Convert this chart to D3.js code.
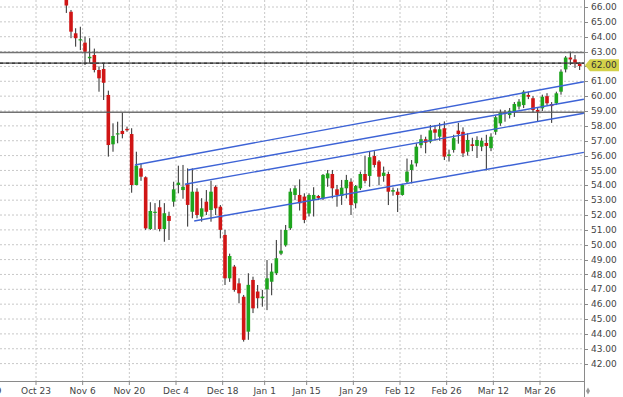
<!DOCTYPE html>
<html><head><meta charset="utf-8">
<script src="https://cdn.jsdelivr.net/npm/d3@7"></script>
<style>body{margin:0;background:#fff}svg{display:block}</style>
</head><body><svg id="c" width="623" height="397"></svg>
<script>
// ---- data ----
const startIndex = 6; // trading-day index of first candle (0 = Oct 23)
const opens  = [66.7,65.68,64.23,63.75,63.6,62.55,62.77,61.76,61.83,60.08,56.76,57.45,57.66,57.8,57.45,54.02,55.14,54.54,51.06,52.15,52.52,51.06,51.94,52.9,54.02,53.68,54.07,52.22,53.57,51.89,52.9,52.34,53.9,52.56,50.66,47.74,48.53,47.4,46.5,44.15,47.63,46.85,46.4,47.0,47.51,48.08,49.4,49.96,51.11,53.35,53.35,53.24,52.1,53.0,53.28,53.12,54.47,54.76,53.73,53.28,53.8,54.24,52.79,53.8,54.76,54.63,55.97,55.6,54.63,54.76,53.57,53.57,53.35,54.24,55.03,55.48,56.7,57.1,56.94,57.77,57.27,57.84,55.97,56.38,57.68,57.6,56.26,56.76,56.65,56.6,56.85,56.5,57.6,58.17,58.9,58.73,58.9,59.3,59.4,60.08,59.86,59.07,59.18,60.0,59.47,59.52,60.3,61.8,62.6,62.47,62.2];
const highs  = [67.0,65.8,64.57,64.67,64.0,63.9,63.2,62.0,62.2,60.37,58.17,58.28,58.9,57.95,57.84,56.26,55.48,54.6,52.86,52.8,53.0,52.8,52.22,54.24,55.32,55.37,55.14,55.14,53.8,53.13,53.68,54.3,54.0,52.67,51.0,49.4,48.64,47.74,46.62,48.08,47.85,47.29,46.96,48.97,48.75,50.32,51.0,51.33,53.8,54.0,54.4,53.46,53.46,53.87,53.35,54.76,55.03,55.03,54.02,54.36,54.7,54.47,54.02,54.92,55.97,56.26,56.3,55.7,55.26,54.92,53.85,53.8,54.1,55.8,55.7,56.83,57.4,57.27,58.06,58.06,58.2,58.3,56.4,57.4,58.2,57.9,57.5,57.2,57.3,57.2,57.4,57.5,58.7,59.1,59.07,59.2,59.6,59.8,60.4,60.3,60.0,59.2,60.1,60.2,59.6,60.3,61.8,62.7,63.0,62.77,62.3];
const lows   = [65.6,63.9,63.33,63.1,62.1,62.2,61.6,60.3,59.74,55.93,56.26,56.83,57.16,57.6,53.5,54.0,54.3,51.0,51.0,51.0,50.9,50.2,50.32,52.56,53.46,53.1,51.22,51.78,51.78,51.55,52.0,51.55,52.0,50.43,47.29,47.5,46.84,46.06,43.48,43.6,45.4,45.72,45.83,45.6,46.6,47.96,49.3,49.87,51.0,53.0,52.3,51.45,51.9,51.9,53.0,53.0,53.9,53.12,52.56,52.68,53.12,52.0,52.45,53.68,54.13,53.9,55.2,54.0,54.24,52.67,53.3,52.2,53.3,54.1,54.13,55.26,56.5,56.15,56.83,57.0,57.0,55.7,55.6,56.2,56.8,55.9,56.0,56.3,55.84,56.3,55.0,56.3,57.4,58.0,58.28,58.5,58.6,59.1,59.2,59.8,58.9,58.28,59.0,59.4,58.2,59.4,60.1,61.6,62.1,61.9,61.76];
const closes = [66.1,64.34,63.9,63.83,62.99,62.65,61.76,61.2,60.9,56.71,57.32,57.5,57.45,57.7,54.02,55.32,54.58,51.1,52.27,52.22,51.06,52.12,51.6,53.73,54.18,53.9,52.68,53.57,52.0,52.45,52.22,53.57,52.45,51.0,47.74,49.24,46.96,46.73,43.6,47.3,45.72,46.4,46.51,47.74,48.19,49.09,49.6,50.99,53.57,53.8,52.79,51.67,53.35,53.35,53.15,54.7,54.8,53.8,53.35,53.84,54.36,52.67,53.95,54.76,54.3,55.89,55.37,54.58,54.85,53.57,53.68,53.35,54.02,54.92,55.4,56.6,57.1,56.87,57.7,57.54,57.77,55.93,56.08,57.17,57.45,56.15,57.05,56.65,57.05,57.0,56.65,57.27,58.58,58.9,58.85,59.02,59.47,59.63,60.3,59.96,59.07,58.95,59.96,59.52,59.33,60.19,61.65,62.6,62.47,62.16,62.03];
const tickLabels = ["Oct 9","Oct 23","Nov 6","Nov 20","Dec 4","Dec 18","Jan 1","Jan 15","Jan 29","Feb 12","Feb 26","Mar 12","Mar 26"];
const tickIndex  = [-10,0,10,20,30,40,49,58,68,78,88,98,108];
const priceTicks = d3.range(42, 67, 1);
const levelPrices = [62.94, 62.22, 58.92];
const lastPriceLevel = 62.22;   // dashed last-price line
const lastPriceLabel = 62.00;   // value in the highlighted axis tag
const trendFrom = [[21.2,55.37],[32.6,55.03],[31.9,54.07],[33.9,51.6]];
const trendTo   = [[117.4,60.97],[117.4,59.79],[117.4,58.85],[117.4,56.22]];

// ---- layout ----
const W = 623, H = 397, plotR = 584, plotB = 381;
const svg = d3.select("#c");
const x = d3.scaleLinear().domain([0,108]).range([36,540]);
const y = d3.scaleLinear().domain([42,66]).range([363.6,7]);
const font = "DejaVu Sans, Verdana, sans-serif";

svg.append("defs").append("clipPath").attr("id","pc")
  .append("rect").attr("x",0).attr("y",0).attr("width",plotR).attr("height",plotB);

const grid = svg.append("g");
grid.selectAll("line.h").data(priceTicks).join("line")
  .attr("x1",0).attr("x2",plotR).attr("y1",d=>y(d)).attr("y2",d=>y(d))
  .attr("stroke","#c8c8c8").attr("stroke-width",1).attr("stroke-dasharray","2,2");
grid.selectAll("line.v").data(tickIndex).join("line")
  .attr("x1",d=>x(d)).attr("x2",d=>x(d)).attr("y1",0).attr("y2",plotB)
  .attr("stroke","#c8c8c8").attr("stroke-width",1).attr("stroke-dasharray","2,2");

const plot = svg.append("g").attr("clip-path","url(#pc)");

const candles = opens.map((o,k)=>({i:startIndex+k,o,h:highs[k],l:lows[k],c:closes[k]}));
const cg = plot.append("g");
cg.selectAll("line").data(candles).join("line")
  .attr("x1",d=>x(d.i+0.5)).attr("x2",d=>x(d.i+0.5))
  .attr("y1",d=>y(d.h)).attr("y2",d=>y(d.l))
  .attr("stroke","#2a2a2a").attr("stroke-width",1);
const bw = 3.6;
cg.selectAll("rect").data(candles).join("rect")
  .attr("x",d=>x(d.i+0.5)-bw/2).attr("width",bw)
  .attr("y",d=>y(Math.max(d.o,d.c)))
  .attr("height",d=>Math.max(1.2,Math.abs(y(d.o)-y(d.c))))
  .attr("fill",d=>d.c>=d.o?"#1ea51e":"#d01515");

// level lines
plot.selectAll("line.lvl").data(levelPrices).join("line").attr("class","lvl")
  .attr("x1",0).attr("x2",plotR).attr("y1",d=>y(d)).attr("y2",d=>y(d))
  .attr("stroke","#5a5a5a").attr("stroke-width",1.6).attr("opacity",0.85);
plot.append("line").attr("x1",0).attr("x2",plotR).attr("y1",y(lastPriceLevel)).attr("y2",y(lastPriceLevel))
  .attr("stroke","#222").attr("stroke-width",1).attr("stroke-dasharray","3,3");

// trend lines
plot.selectAll("line.tr").data(trendFrom).join("line").attr("class","tr")
  .attr("x1",d=>x(d[0])).attr("y1",d=>y(d[1]))
  .attr("x2",(d,k)=>x(trendTo[k][0])).attr("y2",(d,k)=>y(trendTo[k][1]))
  .attr("stroke","#3d63d6").attr("stroke-width",1.4);

// axes frame
svg.append("line").attr("x1",0).attr("x2",plotR).attr("y1",plotB+0.5).attr("y2",plotB+0.5).attr("stroke","#8a8a8a");
svg.append("line").attr("x1",plotR+0.5).attr("x2",plotR+0.5).attr("y1",0).attr("y2",H).attr("stroke","#8a8a8a");

// right axis
const ra = svg.append("g").attr("font-family",font).attr("font-size",9).attr("fill","#444");
ra.selectAll("line").data(priceTicks).join("line")
  .attr("x1",plotR).attr("x2",plotR+4).attr("y1",d=>Math.round(y(d))+0.5).attr("y2",d=>Math.round(y(d))+0.5)
  .attr("stroke","#8a8a8a");
ra.selectAll("text").data(priceTicks).join("text")
  .attr("x",591).attr("y",d=>y(d)).attr("dy","0.35em").text(d=>d.toFixed(2));

// last price tag
const ly = y(lastPriceLabel) - 1.2;
svg.append("path").attr("d",`M585,${ly} L590,${ly-6} L619,${ly-6} L619,${ly+6} L590,${ly+6} Z`).attr("fill","#d3d24a");
svg.append("text").attr("x",591).attr("y",ly).attr("dy","0.35em")
  .attr("font-family",font).attr("font-size",9).attr("fill","#333").text(lastPriceLabel.toFixed(2));

// bottom axis
const ba = svg.append("g").attr("font-family",font).attr("font-size",9).attr("fill","#444");
ba.selectAll("line").data(tickIndex).join("line")
  .attr("x1",d=>x(d)).attr("x2",d=>x(d)).attr("y1",plotB).attr("y2",plotB+4).attr("stroke","#8a8a8a");
ba.selectAll("text").data(tickLabels).join("text")
  .attr("x",(d,k)=>x(tickIndex[k])).attr("y",394).attr("text-anchor","middle").text(d=>d);

// diamond marker
svg.append("path").attr("d",d3.symbol().type(d3.symbolDiamond).size(14)()).attr("transform","translate(588,391)").attr("fill","#999");
</script></body></html>
